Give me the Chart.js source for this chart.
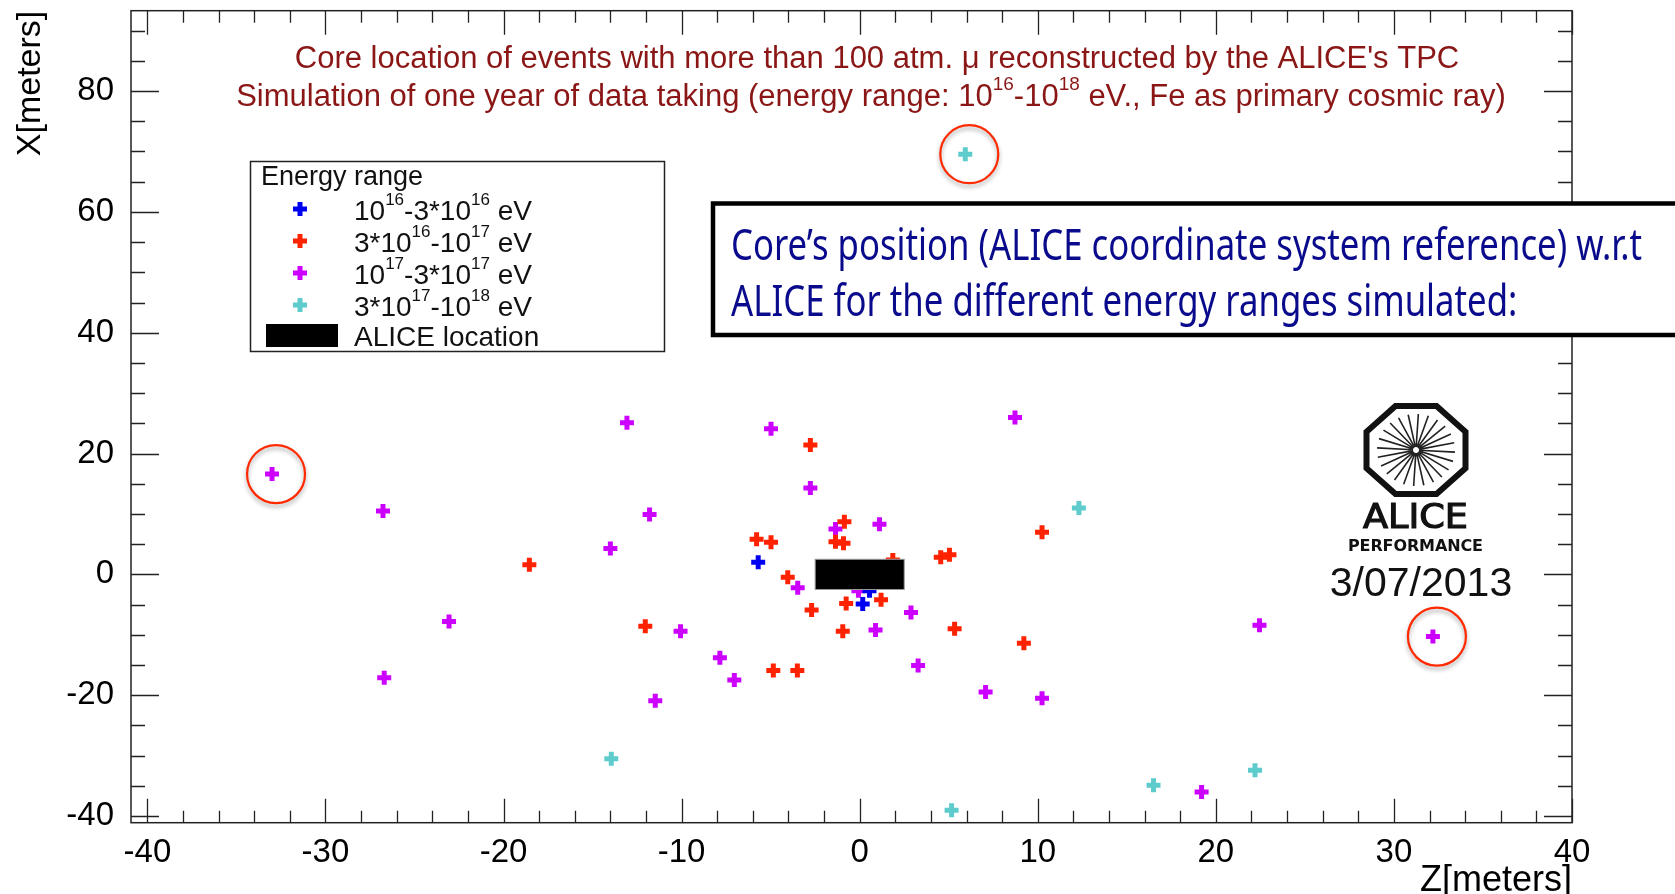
<!DOCTYPE html>
<html lang="en">
<head>
<meta charset="utf-8">
<title>Core location of events - ALICE TPC</title>
<script src="https://cdn.jsdelivr.net/npm/chart.js@4.4.1/dist/chart.umd.min.js"></script>
<style>
  html, body { margin: 0; padding: 0; background: #fff; }
  canvas { display: block; }
</style>
</head>
<body>
<canvas id="core-chart" width="1675" height="894"></canvas>
<script>
// core positions, [Z, X] in meters
const lowestPoints = [[-5.7, 2.0], [0.55, -2.7], [0.17, -4.9]];
const lowPoints = [
    [-18.55, 1.6], [-12.04, -8.6], [-4.85, -15.9], [-3.5, -15.9], [-2.77, 21.4],
    [-5.79, 5.8], [-4.98, 5.3], [-0.86, 8.7], [-1.36, 5.4], [-0.91, 5.15],
    [1.86, 2.4], [4.55, 2.83], [5.04, 3.27], [-4.04, -0.46], [-2.7, -5.9],
    [-0.76, -4.8], [1.2, -4.2], [-0.95, -9.4], [5.33, -9.0], [9.22, -11.4],
    [10.24, 6.96]
];
const highPoints = [
    [-33.0, 16.6], [-13.07, 25.1], [-4.98, 24.1], [8.72, 25.96], [-2.77, 14.3],
    [-26.77, 10.5], [-11.8, 9.9], [-14.0, 4.3], [-1.36, 7.5], [1.11, 8.3],
    [-23.06, -7.8], [-10.06, -9.4], [-26.7, -17.1], [-11.48, -20.9], [-7.85, -13.8],
    [-7.04, -17.5], [-3.48, -2.2], [-0.07, -2.7], [2.88, -6.3], [0.89, -9.2],
    [3.28, -15.06], [7.07, -19.46], [10.24, -20.5], [22.45, -8.4], [32.19, -10.3],
    [19.2, -36.0]
];
const highestPoints = [
    [5.93, 69.55], [12.31, 10.98], [-13.95, -30.5], [5.16, -39.05], [16.5, -34.9], [22.2, -32.4]
];

const seriesNames = ['10^{16}-3*10^{16} eV', '3*10^{16}-10^{17} eV', '10^{17}-3*10^{17} eV', '3*10^{17}-10^{18} eV'];
const seriesColors = ['#0000f0', '#ff2200', '#cc00ff', '#5ecccc'];

// ALICE location (Z and X extent)
const aliceZ = [-2.5, 2.5];
const aliceX = [-2.5, 2.5];

// points marked with a red circle
const circledPoints = [[5.93, 69.55], [-33.0, 16.6], [32.19, -10.3]];

const zTicks = [-40, -30, -20, -10, 0, 10, 20, 30, 40];
const xTicks = [-40, -20, 0, 20, 40, 60, 80];
const zRange = [-40.92, 40];
const xRange = [-41.1, 93.3];
const zMinorStep = 2;
const xMinorStep = 5;

const titleLines = [
    'Core location of events with more than 100 atm. \u03bc reconstructed by the ALICE\'s TPC',
    'Simulation of one year of data taking (energy range: 10^{16}-10^{18} eV., Fe as primary cosmic ray)'
];
const infoLines = [
    'Core\u2019s position (ALICE coordinate system reference) w.r.t',
    'ALICE for the different energy ranges simulated:'
];

const sansFont = "'Liberation Sans', Arial, sans-serif";

function richParts(str) {
    const parts = [];
    const re = /\^\{([^}]*)\}/g;
    let last = 0, m;
    while ((m = re.exec(str))) {
        if (m.index > last) parts.push({t: str.slice(last, m.index), sup: false});
        parts.push({t: m[1], sup: true});
        last = re.lastIndex;
    }
    if (last < str.length) parts.push({t: str.slice(last), sup: false});
    return parts;
}

function drawRich(ctx, str, x, y, size, align) {
    const parts = richParts(str);
    const supSize = Math.round(size * 0.62);
    let total = 0;
    parts.forEach(p => {
        ctx.font = (p.sup ? supSize : size) + 'px ' + sansFont;
        p.w = ctx.measureText(p.t).width;
        total += p.w;
    });
    let cx = align === 'center' ? x - total / 2 : x;
    ctx.textAlign = 'left';
    ctx.textBaseline = 'alphabetic';
    parts.forEach(p => {
        ctx.font = (p.sup ? supSize : size) + 'px ' + sansFont;
        ctx.fillText(p.t, cx, p.sup ? y - size * 0.52 : y);
        cx += p.w;
    });
}

function drawPlus(ctx, x, y, color) {
    ctx.save();
    ctx.strokeStyle = color;
    ctx.lineWidth = 5;
    ctx.beginPath();
    ctx.moveTo(x - 7, y); ctx.lineTo(x + 7, y);
    ctx.moveTo(x, y - 7); ctx.lineTo(x, y + 7);
    ctx.stroke();
    ctx.restore();
}

const aliceBoxPlugin = {
    id: 'aliceBox',
    afterDatasetsDraw(chart) {
        const ctx = chart.ctx;
        const xs = chart.scales.x, ys = chart.scales.y;
        const left = xs.getPixelForValue(aliceZ[0]);
        const right = xs.getPixelForValue(aliceZ[1]);
        const top = ys.getPixelForValue(aliceX[1]);
        const bottom = ys.getPixelForValue(aliceX[0]);
        ctx.save();
        ctx.fillStyle = '#000';
        ctx.fillRect(left, top, right - left, bottom - top);
        ctx.strokeStyle = '#999';
        ctx.lineWidth = 1;
        ctx.strokeRect(left, top, right - left, bottom - top);

        // red circles round the outliers
        ctx.strokeStyle = '#ff2a00';
        ctx.lineWidth = 2.2;
        ctx.shadowColor = 'rgba(0,0,0,0.35)';
        ctx.shadowBlur = 4;
        ctx.shadowOffsetY = 3;
        circledPoints.forEach(p => {
            ctx.beginPath();
            ctx.arc(xs.getPixelForValue(p[0]) + 4, ys.getPixelForValue(p[1]), 29, 0, Math.PI * 2);
            ctx.stroke();
        });
        ctx.restore();
    }
};

const framePlugin = {
    id: 'rootFrame',
    afterDraw(chart) {
        const ctx = chart.ctx;
        const a = chart.chartArea;
        const xs = chart.scales.x, ys = chart.scales.y;
        ctx.save();
        ctx.strokeStyle = '#222';
        ctx.lineWidth = 1.5;
        ctx.strokeRect(a.left, a.top, a.right - a.left, a.bottom - a.top);

        // ticks inside the frame on all four sides
        ctx.beginPath();
        const zStart = Math.ceil(zRange[0] / zMinorStep) * zMinorStep;
        for (let v = zStart; v <= zRange[1] + 1e-9; v += zMinorStep) {
            const px = Math.round(xs.getPixelForValue(v)) + 0.5;
            const len = zTicks.includes(v) ? 24 : 12;
            ctx.moveTo(px, a.bottom); ctx.lineTo(px, a.bottom - len);
            ctx.moveTo(px, a.top); ctx.lineTo(px, a.top + len);
        }
        const xStart = Math.ceil(xRange[0] / xMinorStep) * xMinorStep;
        for (let v = xStart; v <= xRange[1] + 1e-9; v += xMinorStep) {
            const py = Math.round(ys.getPixelForValue(v)) + 0.5;
            const len = xTicks.includes(v) ? 28 : 14;
            ctx.moveTo(a.left, py); ctx.lineTo(a.left + len, py);
            ctx.moveTo(a.right, py); ctx.lineTo(a.right - len, py);
        }
        ctx.lineWidth = 1.3;
        ctx.stroke();

        // title
        ctx.fillStyle = '#8a1616';
        drawRich(ctx, titleLines[0], 877, 68, 31, 'center');
        drawRich(ctx, titleLines[1], 871, 106, 31, 'center');

        // legend
        ctx.fillStyle = '#fff';
        ctx.fillRect(250.5, 161.5, 414, 190);
        ctx.strokeStyle = '#222';
        ctx.lineWidth = 1.5;
        ctx.strokeRect(250.5, 161.5, 414, 190);
        ctx.fillStyle = '#111';
        ctx.font = '27px ' + sansFont;
        ctx.textAlign = 'left';
        ctx.fillText('Energy range', 261, 185);
        const rowY = [209, 241, 273, 305];
        seriesNames.forEach((name, i) => {
            drawPlus(ctx, 300, rowY[i], seriesColors[i]);
            ctx.fillStyle = '#111';
            drawRich(ctx, name, 354, rowY[i] + 11, 28, 'left');
        });
        ctx.fillStyle = '#000';
        ctx.fillRect(266, 324, 72, 23);
        ctx.fillStyle = '#111';
        ctx.font = '28px ' + sansFont;
        ctx.fillText('ALICE location', 354, 346);

        // info box
        ctx.fillStyle = '#fff';
        ctx.fillRect(713, 203.5, 1000, 131.5);
        ctx.strokeStyle = '#000';
        ctx.lineWidth = 4.5;
        ctx.strokeRect(713, 203.5, 1000, 131.5);
        ctx.font = "43px 'Noto Sans', sans-serif";
        const sx = 911 / ctx.measureText(infoLines[0]).width;
        ctx.save();
        ctx.translate(731, 0);
        ctx.scale(sx, 1);
        ctx.fillStyle = '#0a0a8c';
        ctx.fillText(infoLines[0], 0, 260);
        ctx.fillText(infoLines[1], 0, 316);
        ctx.restore();

        drawLogo(ctx);
        ctx.restore();
    }
};

function drawLogo(ctx) {
    const cx = 1416, cy = 450;
    ctx.save();
    ctx.strokeStyle = '#111';
    ctx.lineWidth = 6;
    ctx.beginPath();
    for (let k = 0; k < 8; k++) {
        const ang = Math.PI / 8 + k * Math.PI / 4;
        const px = cx + 49.5 * Math.cos(ang) / Math.cos(Math.PI / 8);
        const py = cy + 44 * Math.sin(ang) / Math.cos(Math.PI / 8);
        if (k === 0) ctx.moveTo(px, py); else ctx.lineTo(px, py);
    }
    ctx.closePath();
    ctx.stroke();
    ctx.lineWidth = 1.6;
    ctx.strokeStyle = '#222';
    ctx.beginPath();
    for (let k = 0; k < 24; k++) {
        const ang = k * Math.PI / 12 + 0.06;
        ctx.moveTo(cx + 3 * Math.cos(ang), cy + 3 * Math.sin(ang));
        ctx.lineTo(cx + 39 * Math.cos(ang), cy + 36 * Math.sin(ang));
    }
    ctx.stroke();

    ctx.fillStyle = '#111';
    ctx.textAlign = 'left';
    ctx.font = "34px 'DejaVu Sans', sans-serif";
    let w = ctx.measureText('ALICE').width;
    ctx.save();
    ctx.translate(1363, 528);
    ctx.scale(105 / w, 1);
    ctx.lineWidth = 1.2;
    ctx.strokeStyle = '#111';
    ctx.fillText('ALICE', 0, 0);
    ctx.strokeText('ALICE', 0, 0);
    ctx.restore();

    // PERFORMANCE, letters spread over the logo width
    ctx.font = "bold 16px 'DejaVu Sans', sans-serif";
    const word = 'PERFORMANCE';
    w = ctx.measureText(word).width;
    const gap = (135 - w) / (word.length - 1);
    let px = 1348;
    for (const ch of word) {
        ctx.fillText(ch, px, 551);
        px += ctx.measureText(ch).width + gap;
    }

    ctx.font = '41px ' + sansFont;
    ctx.textAlign = 'center';
    ctx.fillText('3/07/2013', 1421, 596);
    ctx.restore();
}

const makeSet = (points, i) => ({
    label: seriesNames[i],
    data: points.map(p => ({x: p[0], y: p[1]})),
    pointStyle: 'cross',
    radius: 7,
    borderWidth: 5,
    borderColor: seriesColors[i],
    backgroundColor: seriesColors[i]
});

const ctx = document.getElementById('core-chart').getContext('2d');
new Chart(ctx, {
    type: 'scatter',
    data: {
        datasets: [lowestPoints, lowPoints, highPoints, highestPoints].map(makeSet)
    },
    options: {
        responsive: false,
        animation: false,
        devicePixelRatio: 1,
        layout: {
            autoPadding: false,
            padding: {left: 0, right: 103, top: 10.7, bottom: 0}
        },
        plugins: {
            legend: {display: false},
            title: {display: false},
            tooltip: {enabled: false}
        },
        scales: {
            x: {
                type: 'linear',
                min: zRange[0],
                max: zRange[1],
                afterBuildTicks: s => { s.ticks = zTicks.map(v => ({value: v})); },
                afterFit: s => { s.height = 71.3; s.paddingLeft = 0; s.paddingRight = 0; },
                grid: {display: false, drawTicks: false},
                border: {display: false},
                ticks: {
                    font: {family: sansFont, size: 33},
                    color: '#000',
                    padding: 10,
                    maxRotation: 0,
                    autoSkip: false,
                    callback: v => String(v)
                },
                title: {
                    display: true, text: 'Z[meters]', align: 'end', color: '#000',
                    font: {family: sansFont, size: 36}, padding: {top: 0, bottom: -9}
                }
            },
            y: {
                type: 'linear',
                min: xRange[0],
                max: xRange[1],
                afterBuildTicks: s => { s.ticks = xTicks.map(v => ({value: v})); },
                afterFit: s => { s.width = 131; s.paddingTop = 0; s.paddingBottom = 0; },
                grid: {display: false, drawTicks: false},
                border: {display: false},
                ticks: {
                    font: {family: sansFont, size: 33},
                    color: '#000',
                    padding: 17,
                    autoSkip: false,
                    callback: v => String(v)
                },
                title: {
                    display: true, text: 'X[meters]', align: 'end', color: '#000',
                    font: {family: sansFont, size: 34}, padding: {top: 10, bottom: 0}
                }
            }
        }
    },
    plugins: [aliceBoxPlugin, framePlugin]
});
</script>
</body>
</html>
